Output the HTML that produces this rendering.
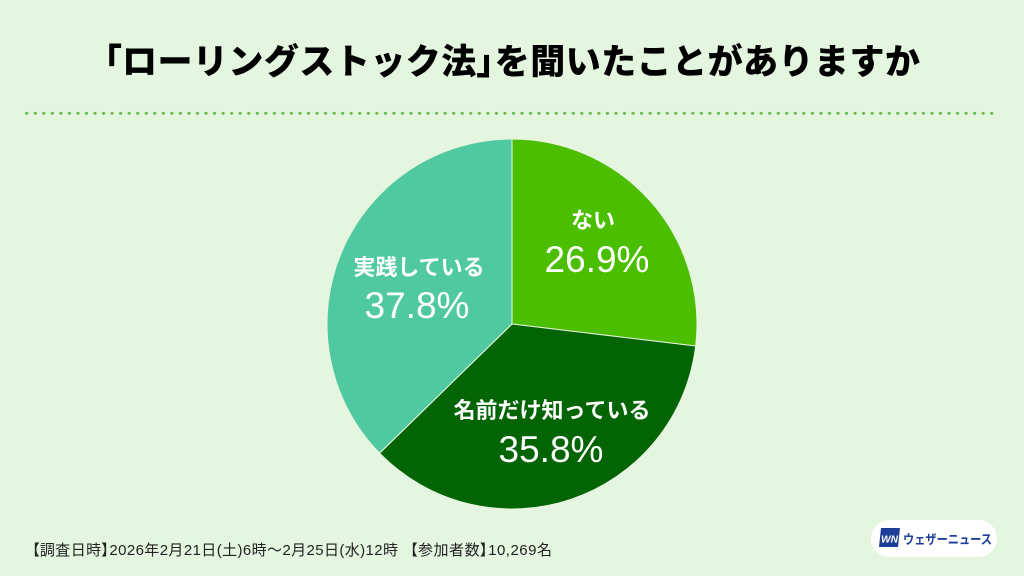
<!DOCTYPE html>
<html><head><meta charset="utf-8">
<style>
html,body{margin:0;padding:0;background:#e4f6e0;}
svg{display:block;}
.jp{font-family:"Liberation Sans","Noto Sans CJK JP",sans-serif;}
</style></head>
<body>
<svg width="1024" height="576" viewBox="0 0 1024 576" xmlns="http://www.w3.org/2000/svg">
<defs>
<pattern id="dots" patternUnits="userSpaceOnUse" x="22.43" y="110" width="8.54" height="7">
<circle cx="4.27" cy="3.3" r="1.6" fill="#6cbd4f"/>
</pattern>
</defs>
<rect width="1024" height="576" fill="#e4f6e0"/>

<!-- Title -->
<text x="104" y="74" class="jp" font-size="35" font-weight="900" fill="#000" textLength="816" lengthAdjust="spacing"><tspan style="font-feature-settings:'palt'">「</tspan>ローリングストック法<tspan style="font-feature-settings:'palt'">」</tspan>を聞いたことがありますか</text>

<!-- dotted line -->
<rect x="24" y="110" width="970" height="7" fill="url(#dots)"/>

<!-- Pie -->
<path d="M512,324 L512,139 A185,185 0 0 1 695.68,346.04 Z" fill="#4cbe00" stroke="#e8f5e0" stroke-width="1"/>
<path d="M512,324 L695.68,346.04 A185,185 0 0 1 379.55,453.16 Z" fill="#026402" stroke="#e8f5e0" stroke-width="1"/>
<path d="M512,324 L379.55,453.16 A185,185 0 0 1 512,139 Z" fill="#50c9a0" stroke="#e8f5e0" stroke-width="1"/>

<!-- Labels -->
<g class="jp" fill="#fff" text-anchor="middle">
<text x="593" y="228" font-size="22" font-weight="700">ない</text>
<text x="597" y="272" font-size="37" font-family="Liberation Sans, sans-serif">26.9%</text>
<text x="419" y="275" font-size="22" font-weight="700">実践している</text>
<text x="417" y="318" font-size="37" font-family="Liberation Sans, sans-serif">37.8%</text>
<text x="552" y="418" font-size="22" font-weight="700">名前だけ知っている</text>
<text x="551" y="462" font-size="37" font-family="Liberation Sans, sans-serif">35.8%</text>
</g>

<!-- Footer -->
<text x="32" y="555" class="jp" font-size="15" fill="#222" style="font-feature-settings:'palt'" textLength="366" lengthAdjust="spacing">【調査日時】2026年2月21日(土)6時〜2月25日(水)12時</text>
<text x="410" y="555" class="jp" font-size="15" fill="#222" style="font-feature-settings:'palt'" textLength="142" lengthAdjust="spacing">【参加者数】10,269名</text>

<!-- Logo -->
<rect x="871" y="520" width="126" height="37" rx="18.5" fill="#fff"/>
<polygon points="881,528 900,528 898,547 879,547" fill="#1e3f98"/>
<text x="889.5" y="542.5" font-family="Liberation Sans, sans-serif" font-size="10" font-weight="700" font-style="italic" fill="#fff" text-anchor="middle" textLength="17" lengthAdjust="spacingAndGlyphs">WN</text>
<text x="903" y="544" class="jp" font-size="13" font-weight="700" fill="#1e3f98" textLength="89" lengthAdjust="spacingAndGlyphs">ウェザーニュース</text>
</svg>
</body></html>
